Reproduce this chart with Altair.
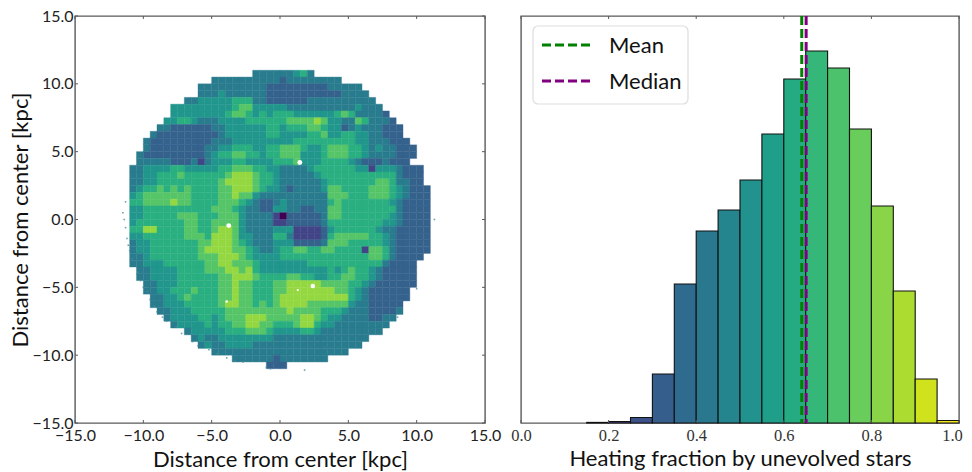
import altair as alt
import pandas as pd

# ---- right panel values
bin_start = [0.15,0.20,0.25,0.30,0.35,0.40,0.45,0.50,0.55,0.60,0.65,0.70,0.75,0.80,0.85,0.90,0.95]
bin_count = [0.6,1.5,5.5,49,139,192,213,243,289,344,372,355,294,217,132,44,2.5]
mean_value = 0.641
median_value = 0.651

row_start = [18,12,10,10,8,6,6,5,4,3,2,2,1,1,0,0,0,0,0,0,0,0,0,0,0,0,0,0,0,1,1,2,2,3,3,4,5,6,8,9,10,12,15,20]
row_levels = [
"444444564",
"4444444444344444444",
"444444444433333333344444",
"4445444444333333333334444",
"4455555666443333334444444444",
"5555555556775555544444444445444",
"55555555677656566655555567644443",
"5566544455556666667777875544764443",
"443333334455555566566677655345444333",
"4333333333455555566555566755665544333",
"433333333344455555555566666666655444333",
"4333333334455666556677765567776654544333",
"43333333334566776656677755567776654444333",
"4444433342455566555566675556666543334333",
"4455556655555667776655444456666665525554333",
"4455666766666678887665444445666666666664333",
"4455666666666788887665444444566666667764433",
"45667676766667788876554344445776666777654333",
"56777777766667787754444444444777666777654333",
"66777787766667776543345444444676666666543333",
"55666666666677765443355443344776666666643333",
"55666667776667775444420333334776666666543333",
"56666666776677775444422333334666666665543333",
"66886666776678875444455522223566666654433333",
"55666666777688875544466422223677777665433333",
"45566666667788876544455533334777666665433333",
"45566666667888877654456677667766662776433333",
"4456666666777888765555666666666666677643333",
"445556666667788777655555556666666666643333",
"44555566667778878655555555556567665433333",
"44555566666677888766667766556677665433333",
"4455566666677877666778888877776654333333",
"445566676667787766677888888877654333333",
"44556766667787766678888888888654333333",
"4455566666788776767888877777754433333",
"445556666677777777787777666544433334",
"4555566567778887777788765544443344",
"45555656677887766678865544444444",
"45555566677765555665444444444",
"45445555555544444444444444",
"454455554444444444444444",
"44444444444444444444",
"44444434444444",
"333",
]
hole_x = [1.45,-3.75,2.4,-3.9,1.3]
hole_y = [4.2,-0.45,-4.9,-6.05,-5.2]
hole_size = [24,24,20,6,5]
speck_x = [-11.3,-11.4,-11.2,-11.0,-10.5,-10.2,-9.7,-9.2,-8.6,-7.6,-6.4,-5.2,-3.9,-2.7,-1.0,1.8,11.3,10.0,8.6,
           -11.5,-11.3,-11.1,-10.8,-10.4,-10.0,-9.5,-9.0,-8.3,-7.2,-6.0,-4.6,-3.3,-0.7]
speck_y = [1.3,0.0,-1.4,-2.3,-3.4,-4.5,-5.3,-6.4,-7.2,-7.9,-9.0,-9.6,-10.2,-10.5,-10.9,-11.1,0.0,-5.1,-7.2,
           0.5,-0.6,-1.9,-2.9,-3.9,-5.0,-5.9,-6.8,-7.5,-8.4,-9.3,-9.9,-10.4,-11.0]
x_ticks = [-15,-10,-5,0,5,10,15]
hist_ticks = [0.0,0.2,0.4,0.6,0.8,1.0]
legend_names = ["Mean", "Median"]
legend_colors = ["#008000", "#800080"]

FRAME = "#5a5a5a"
SANS = "Lato"
SERIF = "Liberation Serif"
viridis = alt.Scale(scheme="viridis", domain=[0.048, 0.99])
PANEL_H = 407
LEFT_W = 410
RIGHT_W = 438

cells = []
for j, (start, levels) in enumerate(zip(row_start, row_levels)):
    for k, ch in enumerate(levels):
        i = start + k
        cells.append({"x0": -11 + i * 0.5, "x1": -10.5 + i * 0.5,
                      "y0": 11 - j * 0.5, "y1": 10.5 - j * 0.5,
                      "v": int(ch) / 10 + 0.04})
cells = pd.DataFrame(cells)

xs = alt.Scale(domain=[-15, 15], nice=False, zero=False)
ys = alt.Scale(domain=[-15, 15], nice=False, zero=False)
tick_df = pd.DataFrame({"t": x_ticks})

def make_axis(title, vals, label_pad, title_pad):
    return alt.Axis(title=title, values=vals, format=".1f", grid=False, domain=False, ticks=False,
                    labelFont=SANS, labelFontSize=16, labelColor="#222", labelPadding=label_pad,
                    titleFont=SANS, titleFontSize=22, titleFontWeight="normal", titleColor="#111",
                    titlePadding=title_pad, labelOverlap=False, labelFlush=False)

heat = alt.Chart(cells).mark_rect(strokeWidth=0.4).encode(
    x=alt.X("x0:Q", scale=xs, axis=make_axis("Distance from center [kpc]", x_ticks, 4, 6)),
    x2="x1:Q",
    y=alt.Y("y0:Q", scale=ys, axis=make_axis("Distance from center [kpc]", x_ticks, 2, 0)),
    y2="y1:Q",
    fill=alt.Fill("v:Q", scale=viridis, legend=None),
    stroke=alt.Stroke("v:Q", scale=viridis, legend=None),
)
specks = alt.Chart(pd.DataFrame({"x": speck_x, "y": speck_y})).mark_point(
    filled=True, size=2.5, color="#4a8a9a", opacity=0.8, shape="square").encode(
    x=alt.X("x:Q", scale=xs), y=alt.Y("y:Q", scale=ys))
holes = alt.Chart(pd.DataFrame({"x": hole_x, "y": hole_y, "s": hole_size})).mark_circle(
    color="white", opacity=1).encode(
    x=alt.X("x:Q", scale=xs), y=alt.Y("y:Q", scale=ys),
    size=alt.Size("s:Q", scale=None, legend=None))

def xticks_rules(df, scale):
    bot = alt.Chart(df).mark_rule(color=FRAME, strokeWidth=1).encode(
        x=alt.X("t:Q", scale=scale), y=alt.value(PANEL_H), y2=alt.value(PANEL_H - 3))
    top = alt.Chart(df).mark_rule(color=FRAME, strokeWidth=1).encode(
        x=alt.X("t:Q", scale=scale), y=alt.value(0), y2=alt.value(3))
    return bot + top

left_y_l = alt.Chart(tick_df).mark_rule(color=FRAME, strokeWidth=1).encode(
    y=alt.Y("t:Q", scale=ys), x=alt.value(0), x2=alt.value(3))
left_y_r = alt.Chart(tick_df).mark_rule(color=FRAME, strokeWidth=1).encode(
    y=alt.Y("t:Q", scale=ys), x=alt.value(LEFT_W), x2=alt.value(LEFT_W - 3))

left = alt.layer(heat, specks, holes, xticks_rules(tick_df, xs), left_y_l, left_y_r).properties(
    width=LEFT_W, height=PANEL_H)

hist = pd.DataFrame({"a": bin_start, "b": [s + 0.05 for s in bin_start], "n": bin_count,
                     "m": [s + 0.025 for s in bin_start], "z": [0] * len(bin_start)})
hx = alt.Scale(domain=[0, 1], nice=False, zero=False)
hy = alt.Scale(domain=[0, PANEL_H], nice=False)
bars = alt.Chart(hist).mark_rect(stroke="#111", strokeWidth=1.1).encode(
    x=alt.X("a:Q", scale=hx, axis=alt.Axis(
        title="Heating fraction by unevolved stars", values=hist_ticks, format=".1f", grid=False,
        domain=False, ticks=False, labelFont=SERIF, labelFontSize=16.5, labelColor="#333",
        labelPadding=4, titleFont=SANS, titleFontSize=22, titleFontWeight="normal", titleColor="#111",
        titlePadding=5, labelFlush=False, labelOverlap=False,
        labelOffset=alt.ExprRef("datum.value == 1 ? -7 : 0"))),
    x2="b:Q",
    y=alt.Y("n:Q", scale=hy, axis=None),
    y2="z:Q",
    fill=alt.Fill("m:Q", scale=viridis, legend=None),
)
lines = alt.Chart(pd.DataFrame({"x": [mean_value, median_value], "c": legend_colors})).mark_rule(
    strokeWidth=3, strokeDash=[9, 4]).encode(
    x=alt.X("x:Q", scale=hx),
    stroke=alt.Stroke("c:N", scale=None),
)
legend_box = alt.Chart(pd.DataFrame({"k": [0]})).mark_rect(
    fill="white", stroke="#dddddd", strokeWidth=1.2, cornerRadius=5).encode(
    x=alt.value(12), x2=alt.value(167), y=alt.value(10), y2=alt.value(88))
legend_parts = [legend_box]
for name, col, ypos in zip(legend_names, legend_colors, [29, 65]):
    legend_parts.append(alt.Chart(pd.DataFrame({"k": [name]})).mark_rule(
        color=col, strokeWidth=3, strokeDash=[9, 4]).encode(
        x=alt.value(21), x2=alt.value(70), y=alt.value(ypos)))
    legend_parts.append(alt.Chart(pd.DataFrame({"k": [name]})).mark_text(
        font=SANS, fontSize=22, color="#111", align="left", baseline="middle").encode(
        x=alt.value(88), y=alt.value(ypos + 1), text="k:N"))

r_ticks = pd.DataFrame({"t": hist_ticks})
right = alt.layer(bars, lines, xticks_rules(r_ticks, hx), *legend_parts).properties(
    width=RIGHT_W, height=PANEL_H)

chart = alt.hconcat(left, right, spacing=36, bounds="flush").resolve_scale(
    fill="independent", stroke="independent", x="independent", y="independent"
).configure_view(stroke=FRAME, strokeWidth=1.4).properties(
    padding={"left": 0, "top": -1, "right": 0, "bottom": 0}, background="white")

chart.save("out.html", embed_options={"renderer": "svg", "actions": False})
